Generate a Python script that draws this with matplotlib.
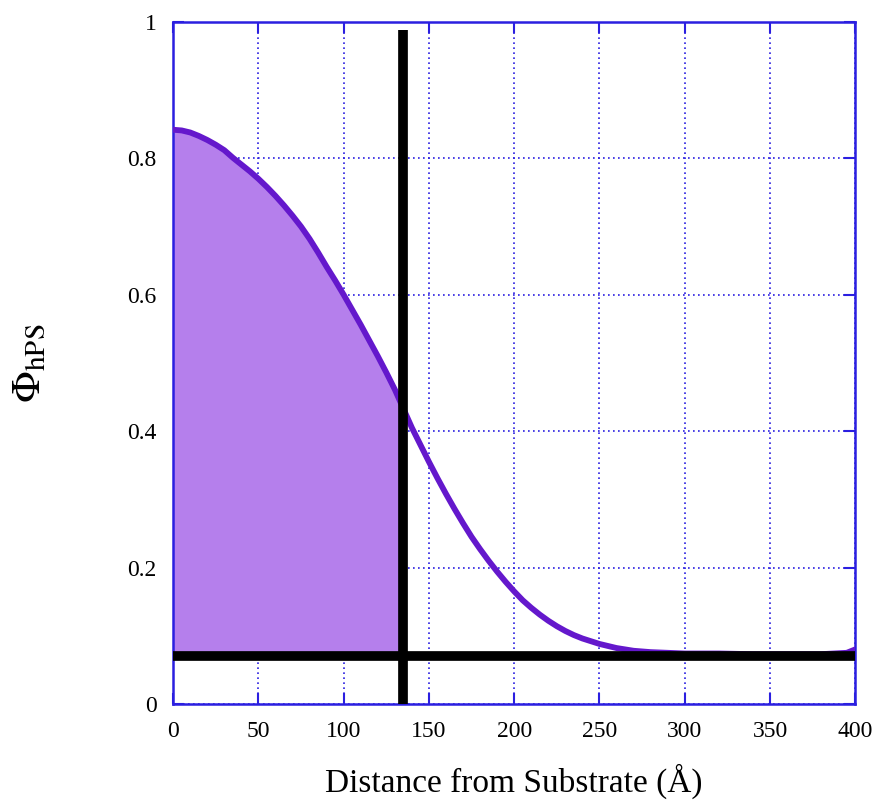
import matplotlib
matplotlib.use("Agg")
import matplotlib.pyplot as plt
import numpy as np

plt.rcParams['font.family'] = ['Liberation Serif', 'DejaVu Serif']
plt.rcParams['mathtext.fontset'] = 'stix'

# volume fraction profile
dist = [0, 5, 10, 15, 20, 25, 30, 35, 40, 45, 50, 55, 60, 65, 70, 75, 80, 85,
        90, 95, 100, 105, 110, 115, 120, 125, 130, 135, 140, 145, 150, 155,
        160, 165, 170, 175, 180, 185, 190, 195, 200, 205, 210, 215, 220, 225,
        230, 235, 240, 245, 250, 260, 270, 280, 290, 300, 320, 340, 360, 380,
        395, 400]
phi = [0.842, 0.841, 0.838, 0.833, 0.827, 0.820, 0.812, 0.801, 0.791, 0.781,
       0.770, 0.758, 0.745, 0.731, 0.716, 0.700, 0.682, 0.662, 0.641, 0.621,
       0.600, 0.578, 0.556, 0.533, 0.510, 0.486, 0.461, 0.433, 0.405, 0.380,
       0.355, 0.331, 0.308, 0.286, 0.265, 0.245, 0.227, 0.210, 0.194, 0.179,
       0.165, 0.152, 0.141, 0.131, 0.122, 0.114, 0.107, 0.101, 0.096, 0.092,
       0.088, 0.082, 0.078, 0.076, 0.075, 0.074, 0.074, 0.073, 0.073, 0.073,
       0.075, 0.080]

cut_x = 135      # vertical marker
base_y = 0.07    # bulk level marker

xticks = [0, 50, 100, 150, 200, 250, 300, 350, 400]
yticks = [0, 0.2, 0.4, 0.6, 0.8, 1]
ytick_labels = ["0", "0.2", "0.4", "0.6", "0.8", "1"]

blue = "#2b1fe0"
line_col = "#6418cc"
fill_col = "#b57fec"

fig = plt.figure(figsize=(8.79, 8.06), dpi=100)
ax = fig.add_axes([0.197, 0.1266, 0.776, 0.8461])

d = np.array(dist, dtype=float)
p = np.array(phi)
m = d <= cut_x
ax.fill_between(d[m], base_y, p[m], color=fill_col, lw=0, zorder=2)
ax.plot(d, p, color=line_col, lw=4.2, solid_capstyle='round',
        solid_joinstyle='round', zorder=3)

ax.axhline(base_y, color="black", lw=7, zorder=4)
ax.plot([cut_x, cut_x], [0, 0.988], color="black", lw=7, zorder=4,
        solid_capstyle='butt')

ax.set_xlim(0, 400)
ax.set_ylim(0, 1)
ax.set_xticks(xticks)
ax.set_yticks(yticks)
ax.set_yticklabels(ytick_labels)
ax.grid(True, color=blue, ls=(0, (1, 2)), lw=1.2, zorder=1)
ax.tick_params(direction='in', length=8, width=1.5, color=blue,
               labelsize=17, top=True, right=True, pad=12)
for s in ax.spines.values():
    s.set_color(blue)
    s.set_linewidth(1.8)

ax.set_xlabel("Distance from Substrate (Å)", fontsize=24, labelpad=16)
ax.set_ylabel(r"$\Phi_{\mathrm{hPS}}$", fontsize=30, labelpad=56)

fig.savefig("out.png", dpi=100)
